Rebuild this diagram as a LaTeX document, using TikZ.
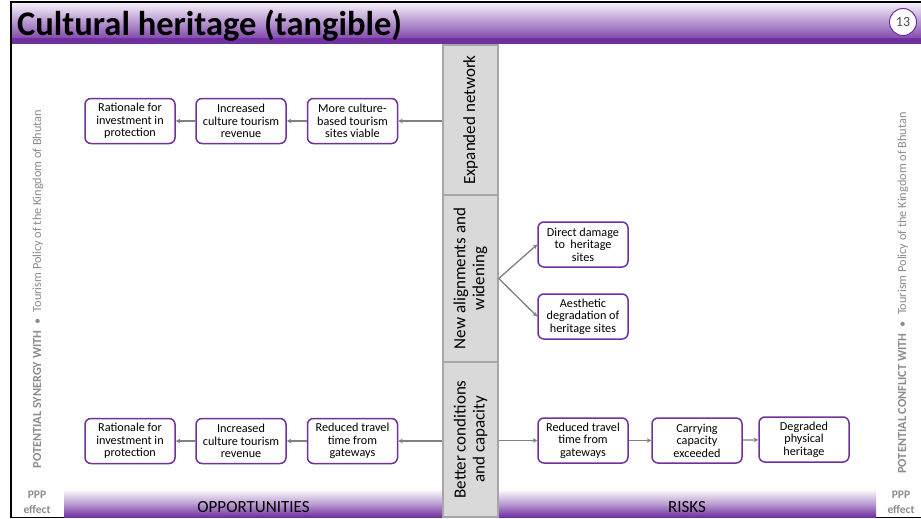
\documentclass[tikz,border=0pt]{standalone}
\usepackage{fontspec}
\setmainfont{Carlito}
\usetikzlibrary{arrows.meta}
\definecolor{ppurple}{HTML}{7030A0}
\definecolor{lav}{HTML}{F4EFF8}
\definecolor{colfill}{HTML}{D9D9D9}
\definecolor{colline}{HTML}{A6A6A6}
\definecolor{arrowgray}{HTML}{808080}
\definecolor{sidegray}{HTML}{8C8C8C}
\tikzset{
  effectbox/.style={draw=ppurple, line width=1.5pt, fill=white, rounded corners=6pt,
    minimum width=90pt, minimum height=45pt, inner sep=1pt, align=center,
    font=\fontsize{12.2}{12.5}\selectfont},
  colbox/.style={draw=colline, line width=1.5pt, fill=colfill, rotate=90,
    minimum height=55pt, inner sep=0pt, align=center,
    font=\fontsize{17}{19}\selectfont},
  link/.style={draw=arrowgray, line width=1.3pt,
    -{Stealth[length=4.5pt,width=4.5pt]}},
  sidelabel/.style={rotate=90, text=sidegray, font=\fontsize{12.3}{14}\selectfont},
  ppp/.style={text=sidegray, align=center, font=\bfseries\fontsize{11.5}{15}\selectfont},
  barlabel/.style={font=\fontsize{17}{18}\selectfont, anchor=base}
}
\begin{document}
\begin{tikzpicture}[x=1pt,y=-1pt]
\useasboundingbox (0,0) rectangle (921,519);
\fill[white] (0,0) rectangle (921,519);

% title banner
\shade[top color=lav, bottom color=ppurple, middle color=ppurple!50!lav] (12,3) rectangle (921,44);
\fill[ppurple] (12,38) rectangle (921,44);
\node[anchor=base west, inner sep=0pt, font=\bfseries\fontsize{34.5}{36}\selectfont] (title) at (17,36) {Cultural heritage (tangible)};
\node[circle, draw=ppurple, line width=1pt, fill=white, minimum size=27pt, inner sep=0pt,
  text=black!70, font=\fontsize{14}{14}\selectfont] (page) at (903,22) {13};

% frame
\draw[black, line width=1.5pt] (921,2) -- (11,2) -- (11,517.5) -- (921,517.5);

% bottom bars
\shade[top color=white, bottom color=ppurple, middle color=ppurple!45] (64,489) rectangle (443,517);
\shade[top color=white, bottom color=ppurple, middle color=ppurple!45] (498,489) rectangle (876,517);
\node[barlabel] (opp) at (253.5,512) {OPPORTUNITIES};
\node[barlabel] (risk) at (687,512) {RISKS};

% side labels
\node[sidelabel] (synergy) at (38,289) {\textbf{POTENTIAL SYNERGY WITH}\enspace\textbullet\enspace Tourism Policy of the Kingdom of Bhutan};
\node[sidelabel] (conflict) at (903,293) {\textbf{POTENTIAL CONFLICT WITH}\enspace\textbullet\enspace Tourism Policy of the Kingdom of Bhutan};
\node[ppp] (pppl) at (37,502) {PPP\\effect};
\node[ppp] (pppr) at (901,502) {PPP\\effect};

% central column
\node[colbox, minimum width=150pt] (c1) at (470.5,120) {Expanded network};
\node[colbox, minimum width=167pt] (c2) at (470.5,278.5) {New alignments and\\widening};
\node[colbox, minimum width=155pt] (c3) at (470.5,439.5) {Better conditions\\and capacity};

% opportunities, top row
\node[effectbox] (a1) at (130,121) {Rationale for\\investment in\\protection};
\node[effectbox] (a2) at (241,121) {Increased\\culture tourism\\revenue};
\node[effectbox] (a3) at (352.5,121) {More culture-\\based tourism\\sites viable};

% opportunities, bottom row
\node[effectbox] (b1) at (130,441) {Rationale for\\investment in\\protection};
\node[effectbox] (b2) at (241,441) {Increased\\culture tourism\\revenue};
\node[effectbox] (b3) at (352.5,441) {Reduced travel\\time from\\gateways};

% risks
\node[effectbox] (d1) at (583,244.5) {Direct damage\\to\ \ heritage\\sites};
\node[effectbox] (d2) at (583,316.5) {Aesthetic\\degradation of\\heritage sites};
\node[effectbox] (r1) at (583,440.5) {Reduced travel\\time from\\gateways};
\node[effectbox] (r2) at (697,440.5) {Carrying\\capacity\\exceeded};
\node[effectbox] (r3) at (804,439.5) {Degraded\\physical\\heritage};

% connectors
\draw[link] (c1.north |- a3.east) -- (a3.east);
\draw[link] (a3) -- (a2);
\draw[link] (a2) -- (a1);
\draw[link] (c3.north |- b3.east) -- (b3.east);
\draw[link] (b3) -- (b2);
\draw[link] (b2) -- (b1);
\draw[link] (c2.south) -- (d1.west);
\draw[link] (c2.south) -- (d2.west);
\draw[link] (c3.south |- r1.west) -- (r1.west);
\draw[link] (r1) -- (r2);
\draw[link] (r2) -- (r3);
\end{tikzpicture}
\end{document}
